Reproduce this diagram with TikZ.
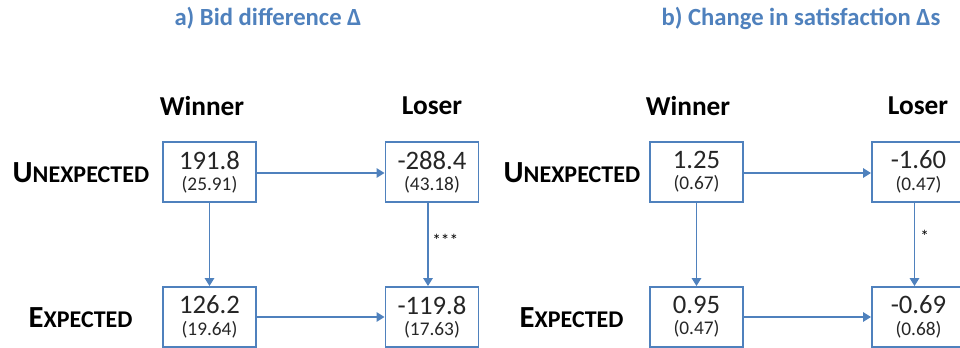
\documentclass[tikz,border=0pt]{standalone}
\usepackage{fontspec}
\setmainfont{Carlito}
\usetikzlibrary{arrows.meta}
\definecolor{obl}{RGB}{79,129,189}
\tikzset{
  valbox/.style={draw=obl,line width=1.4pt,minimum width=93*0.75pt,minimum height=60*0.75pt,inner sep=0pt,align=center,text=black!85},
  conn/.style={draw=obl,line width=1.4pt,-{Triangle[width=7pt,length=6pt]}},
  hdr/.style={font=\fontsize{20.5}{22}\selectfont\bfseries},
  rowlbl/.style={font=\bfseries},
  ttl/.style={font=\fontsize{18.5}{20}\selectfont\bfseries,text=obl},
  sig/.style={font=\fontsize{13}{14}\selectfont,anchor=west,inner sep=0pt}
}
\newcommand{\vv}[2]{{\fontsize{20}{20}\selectfont #1}\\[4pt]{\fontsize{14.5}{14}\selectfont #2}}
\newcommand{\scl}[2]{{\fontsize{23}{24}\selectfont #1}{\fontsize{18}{20}\selectfont #2}}
\begin{document}
\begin{tikzpicture}[x=0.75pt,y=-0.75pt]
\useasboundingbox (0,0) rectangle (960,348);
% panel a
\node[ttl] (ta) at (268,18) {a) Bid difference Δ};
\node[hdr] (hwa) at (202,106) {Winner};
\node[hdr] (hla) at (432,106) {Loser};
\node[rowlbl,anchor=west] (rua) at (8,173) {\scl{U}{NEXPECTED}};
\node[rowlbl,anchor=west] (rea) at (24,318) {\scl{E}{XPECTED}};
\node[valbox] (wua) at (209.5,172) {\vv{191.8}{(25.91)}};
\node[valbox] (lua) at (432,172) {\vv{-288.4}{(43.18)}};
\node[valbox] (wea) at (209.5,317) {\vv{126.2}{(19.64)}};
\node[valbox] (lea) at (432,317) {\vv{-119.8}{(17.63)}};
\draw[conn] (wua.east |- 0,173) -- (lua.west |- 0,173);
\draw[conn] (wea) -- (lea);
\draw[conn] (wua) -- (wea);
\draw[conn] ([xshift=-3pt]lua.south) -- ([xshift=-3pt]lea.north);
\node[sig] (sa) at (432,240) {***};
% panel b
\node[ttl] (tb) at (801,18) {b) Change in satisfaction Δs};
\node[hdr] (hwb) at (688,106) {Winner};
\node[hdr] (hlb) at (918,106) {Loser};
\node[rowlbl,anchor=west] (rub) at (499,173) {\scl{U}{NEXPECTED}};
\node[rowlbl,anchor=west] (reb) at (515,318) {\scl{E}{XPECTED}};
\node[valbox] (wub) at (696.5,172) {\vv{1.25}{(0.67)}};
\node[valbox] (lub) at (918.5,172) {\vv{-1.60}{(0.47)}};
\node[valbox] (web) at (696.5,317) {\vv{0.95}{(0.47)}};
\node[valbox] (leb) at (918.5,317) {\vv{-0.69}{(0.68)}};
\draw[conn] (wub.east |- 0,173) -- (lub.west |- 0,173);
\draw[conn] (web) -- (leb);
\draw[conn] (wub) -- (web);
\draw[conn] ([xshift=-3pt]lub.south) -- ([xshift=-3pt]leb.north);
\node[sig] (sb) at (920,236) {*};
\end{tikzpicture}
\end{document}
